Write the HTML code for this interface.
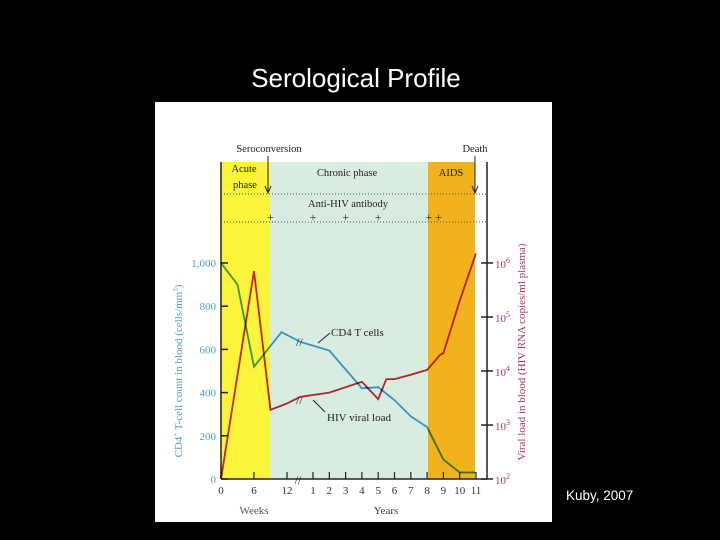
<!DOCTYPE html>
<html><head><meta charset="utf-8"><style>
body{margin:0;background:#000;width:720px;height:540px;overflow:hidden;font-family:"Liberation Serif",serif}
svg{display:block}
</style></head><body>
<svg width="720" height="540" viewBox="0 0 720 540">
<rect x="0" y="0" width="720" height="540" fill="#000"/>
<text x="356" y="87" text-anchor="middle" fill="#fff" font-family="Liberation Sans, sans-serif" font-size="26">Serological Profile</text>
<rect x="155" y="102" width="397" height="420" fill="#fff"/>
<rect x="221" y="162" width="49" height="317" fill="#fbf43a"/>
<rect x="270" y="162" width="158" height="317" fill="#d9ece0"/>
<rect x="428" y="162" width="47" height="317" fill="#f2b21c"/>
<g id="plot"></g>
<text x="566" y="500" fill="#fff" font-family="Liberation Sans, sans-serif" font-size="13.5">Kuby, 2007</text>
</svg>
<script>
const xTickLabels=['0','6','12','1','2','3','4','5','6','7','8','9','10','11'];
const xTickTimes=[0,6/52,12/52,1,2,3,4,5,6,7,8,9,10,11];
const cd4Times=[0,3/52,6/52,11/52,0.62,2,4,5,6,7,8,9,10,11];
const cd4Values=[1000,900,520,680,635,595,420,425,365,290,240,90,30,30];
const vlTimes=[0,6/52,9/52,12/52,0.62,2,4,5,5.5,6,7,8,8.8,9,10,11];
const vlLog=[2,5.85,3.28,3.4,3.52,3.6,3.8,3.48,3.85,3.85,3.93,4.02,4.3,4.33,5.3,6.18];
const leftTicks=[0,200,400,600,800,1000];
const leftTickLabels=['0','200','400','600','800','1,000'];
const rightTicks=[2,3,4,5,6];
const antibodyTimes=[9/52,1,3,5,8.1,8.7];

const NS='http://www.w3.org/2000/svg';
const g=document.getElementById('plot');
function xs(t){
  const w=12/52;
  if(t<=w) return 221+(t/w)*66;
  if(t<1) return 287+(t-w)/(1-w)*26;
  return 313+(t-1)*16.3;
}
function yl(v){return 479-v*0.216;}
function yr(l){return 479-(l-2)*54;}
function el(tag,attrs,text){
  const e=document.createElementNS(NS,tag);
  for(const k in attrs)e.setAttribute(k,attrs[k]);
  if(text!==undefined)e.textContent=text;
  g.appendChild(e);return e;
}
let e;
e=el('line',{x1:221,y1:194,x2:487,y2:194,stroke:'#555','stroke-width':1,'stroke-dasharray':'1,2'});

e=el('line',{x1:221,y1:222,x2:487,y2:222,stroke:'#555','stroke-width':1,'stroke-dasharray':'1,2'});

e=el('line',{x1:221,y1:162,x2:221,y2:479,stroke:'#222','stroke-width':1.5});

e=el('line',{x1:487,y1:162,x2:487,y2:479,stroke:'#222','stroke-width':1.5});

e=el('line',{x1:221,y1:479,x2:487,y2:479,stroke:'#222','stroke-width':1.5});

leftTicks.forEach((v,i)=>{
  const t=el('line',{x1:221,y1:yl(v),x2:228,y2:yl(v),stroke:'#222','stroke-width':1.5});
  
  const l=el('text',{x:216,y:yl(v)+4,'text-anchor':'end',fill:'#4a9ed4','font-size':11},leftTickLabels[i]);
  
});
rightTicks.forEach(v=>{
  const t=el('line',{x1:481,y1:yr(v),x2:493,y2:yr(v),stroke:'#222','stroke-width':1.5});
  
  const l=el('text',{x:495,y:yr(v)+5,fill:'#b0306a','font-size':11});
  
  l.innerHTML='10<tspan dy="-5" font-size="8">'+v+'</tspan>';
});
xTickTimes.forEach((t,i)=>{
  const x=xs(t);
  const tk=el('line',{x1:x,y1:479,x2:x,y2:472,stroke:'#222','stroke-width':1.2});
  
  const l=el('text',{x:x,y:494,'text-anchor':'middle',fill:'#333','font-size':11},xTickLabels[i]);
  
});
e=el('text',{x:298,y:484,'text-anchor':'middle',fill:'#222','font-size':12},'//');

e=el('text',{x:254,y:514,'text-anchor':'middle',fill:'#555','font-size':11},'Weeks');

e=el('text',{x:386,y:514,'text-anchor':'middle',fill:'#444','font-size':11},'Years');

e=el('text',{x:0,y:0,transform:'translate(182,371) rotate(-90)','text-anchor':'middle',fill:'#4a9ed4','font-size':11});

e.innerHTML='CD4<tspan dy="-4" font-size="7">+</tspan><tspan dy="4"> T-cell count in blood (cells/mm</tspan><tspan dy="-4" font-size="7">3</tspan><tspan dy="4">)</tspan>';
e=el('text',{x:0,y:0,transform:'translate(525,352) rotate(-90)','text-anchor':'middle',fill:'#b0306a','font-size':11},'Viral load in blood (HIV RNA copies/ml plasma)');

[['Seroconversion',269,152,'middle','seroconversion-label'],['Death',475,152,'middle','death-label'],['Chronic phase',347,176,'middle','chronic-phase-label'],['AIDS',451,176,'middle','aids-label'],['Acute',244,172,'middle','acute-label'],['phase',245,188,'middle','phase-label'],['Anti-HIV antibody',348,207,'middle','antibody-label']].forEach(a=>{
  const t=el('text',{x:a[1],y:a[2],'text-anchor':a[3],fill:'#222','font-size':10.5},a[0]);
  
});
[[268,'seroconversion-arrow'],[475,'death-arrow']].forEach(a=>{
  const l=el('path',{d:`M${a[0]} 156 V193 M${a[0]-3} 186 L${a[0]} 193 L${a[0]+3} 186`,stroke:'#222',fill:'none','stroke-width':1});
  
});
antibodyTimes.forEach(t=>{
  const p=el('text',{x:xs(t),y:221,'text-anchor':'middle',fill:'#222','font-size':12},'+');
  
});
const cd4=el('polyline',{points:cd4Times.map((t,i)=>xs(t)+','+yl(cd4Values[i])).join(' '),fill:'none',stroke:'#3aa0e0','stroke-width':1.8,style:'mix-blend-mode:multiply'});

const vl=el('polyline',{points:vlTimes.map((t,i)=>xs(t)+','+yr(vlLog[i])).join(' '),fill:'none',stroke:'#c82838','stroke-width':1.8,style:'mix-blend-mode:multiply'});

e=el('text',{x:296,y:346,fill:'#222','font-size':12},'//');

e=el('text',{x:296,y:404,fill:'#222','font-size':12},'//');

e=el('path',{d:'M318 343 L330 333',stroke:'#222',fill:'none','stroke-width':1});

e=el('text',{x:331,y:336,fill:'#222','font-size':11},'CD4 T cells');

e=el('path',{d:'M313 400 L325 412',stroke:'#222',fill:'none','stroke-width':1});

e=el('text',{x:327,y:421,fill:'#222','font-size':11},'HIV viral load');

</script>
</body></html>
